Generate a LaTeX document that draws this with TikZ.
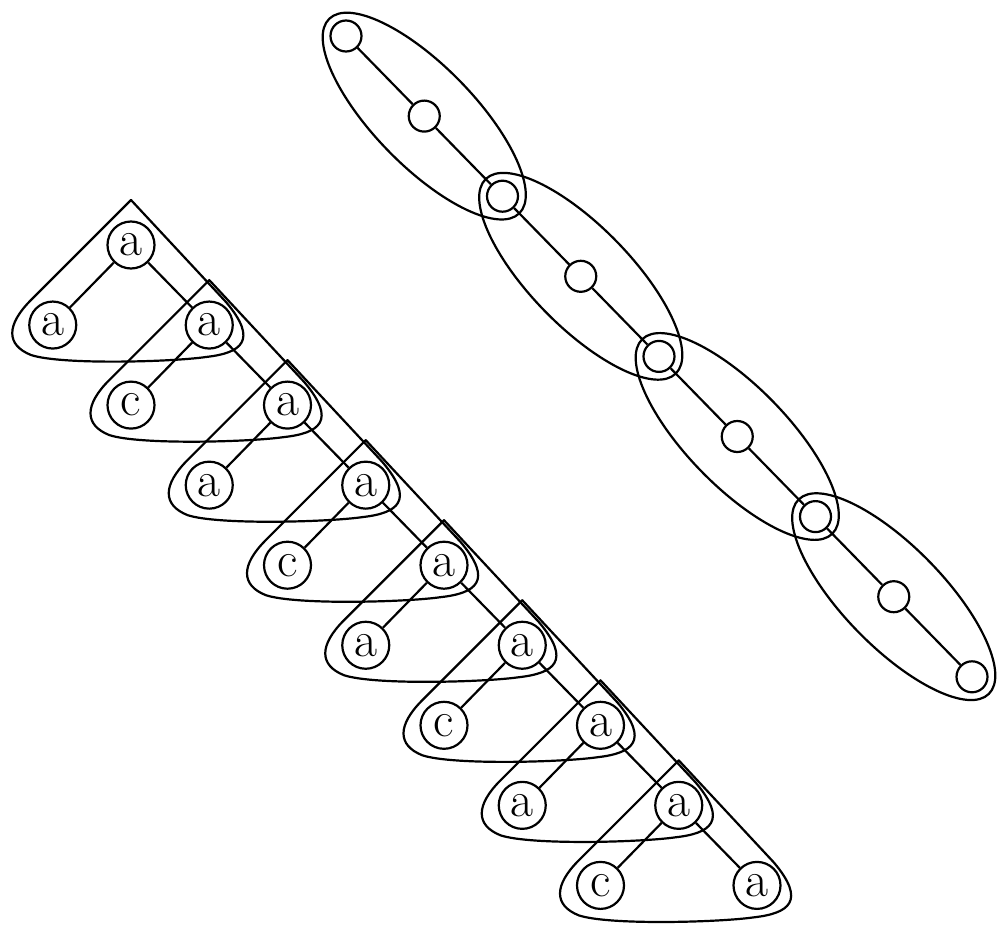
\documentclass[tikz,border=0pt]{standalone}
\usetikzlibrary{calc}
\begin{document}
\begin{tikzpicture}[x=1pt,y=-1pt,line width=2.2pt,
  tn/.style={circle,draw,fill=white,inner sep=0pt,minimum size=47pt,font=\fontsize{50}{60}\selectfont},
  cn/.style={circle,draw,fill=white,inner sep=0pt,minimum size=31pt},
  hull/.style={draw,line join=round},
  ring/.style={draw}]
\useasboundingbox (0,0) rectangle (1001,926);
% tree positions
\foreach \i in {0,...,8}
  \coordinate (p\i) at ({131+78.25*\i},{245+80.05*\i});
% triangles
\foreach \i in {0,...,7}
  \draw[hull,shift={(p\i)}] (0,-45) -- (-100,55)
    .. controls (-125,80) and (-125,100) .. (-100,110)
    .. controls (-70,120) and (40,117) .. (75,112)
    .. controls (110,108) and (128,96) .. (95,57) -- cycle;
% tree nodes
\foreach \i in {0,...,8}
  \node[tn] (s\i) at (p\i) {a};
\foreach \i/\t in {0/a,1/c,2/a,3/c,4/a,5/c,6/a,7/c}
  \node[tn] (l\i) at ($(p\i)+(-78.25,80.05)$) {\t};
\foreach \i in {0,...,7}{
  \pgfmathtruncatemacro\j{\i+1}
  \draw (s\i) -- (s\j);
  \draw (s\i) -- (l\i);
}
% chain
\foreach \j in {0,...,8}
  \coordinate (q\j) at ({346+78.25*\j},{36+80.1*\j});
\foreach \k in {1,3,5,7}
  \draw[ring,rotate around={-45.67:(q\k)}] (q\k) ellipse [x radius=136pt,y radius=50pt];
\foreach \j in {0,...,8}
  \node[cn] (c\j) at (q\j) {};
\foreach \j in {0,...,7}{
  \pgfmathtruncatemacro\k{\j+1}
  \draw (c\j) -- (c\k);
}
\end{tikzpicture}
\end{document}
